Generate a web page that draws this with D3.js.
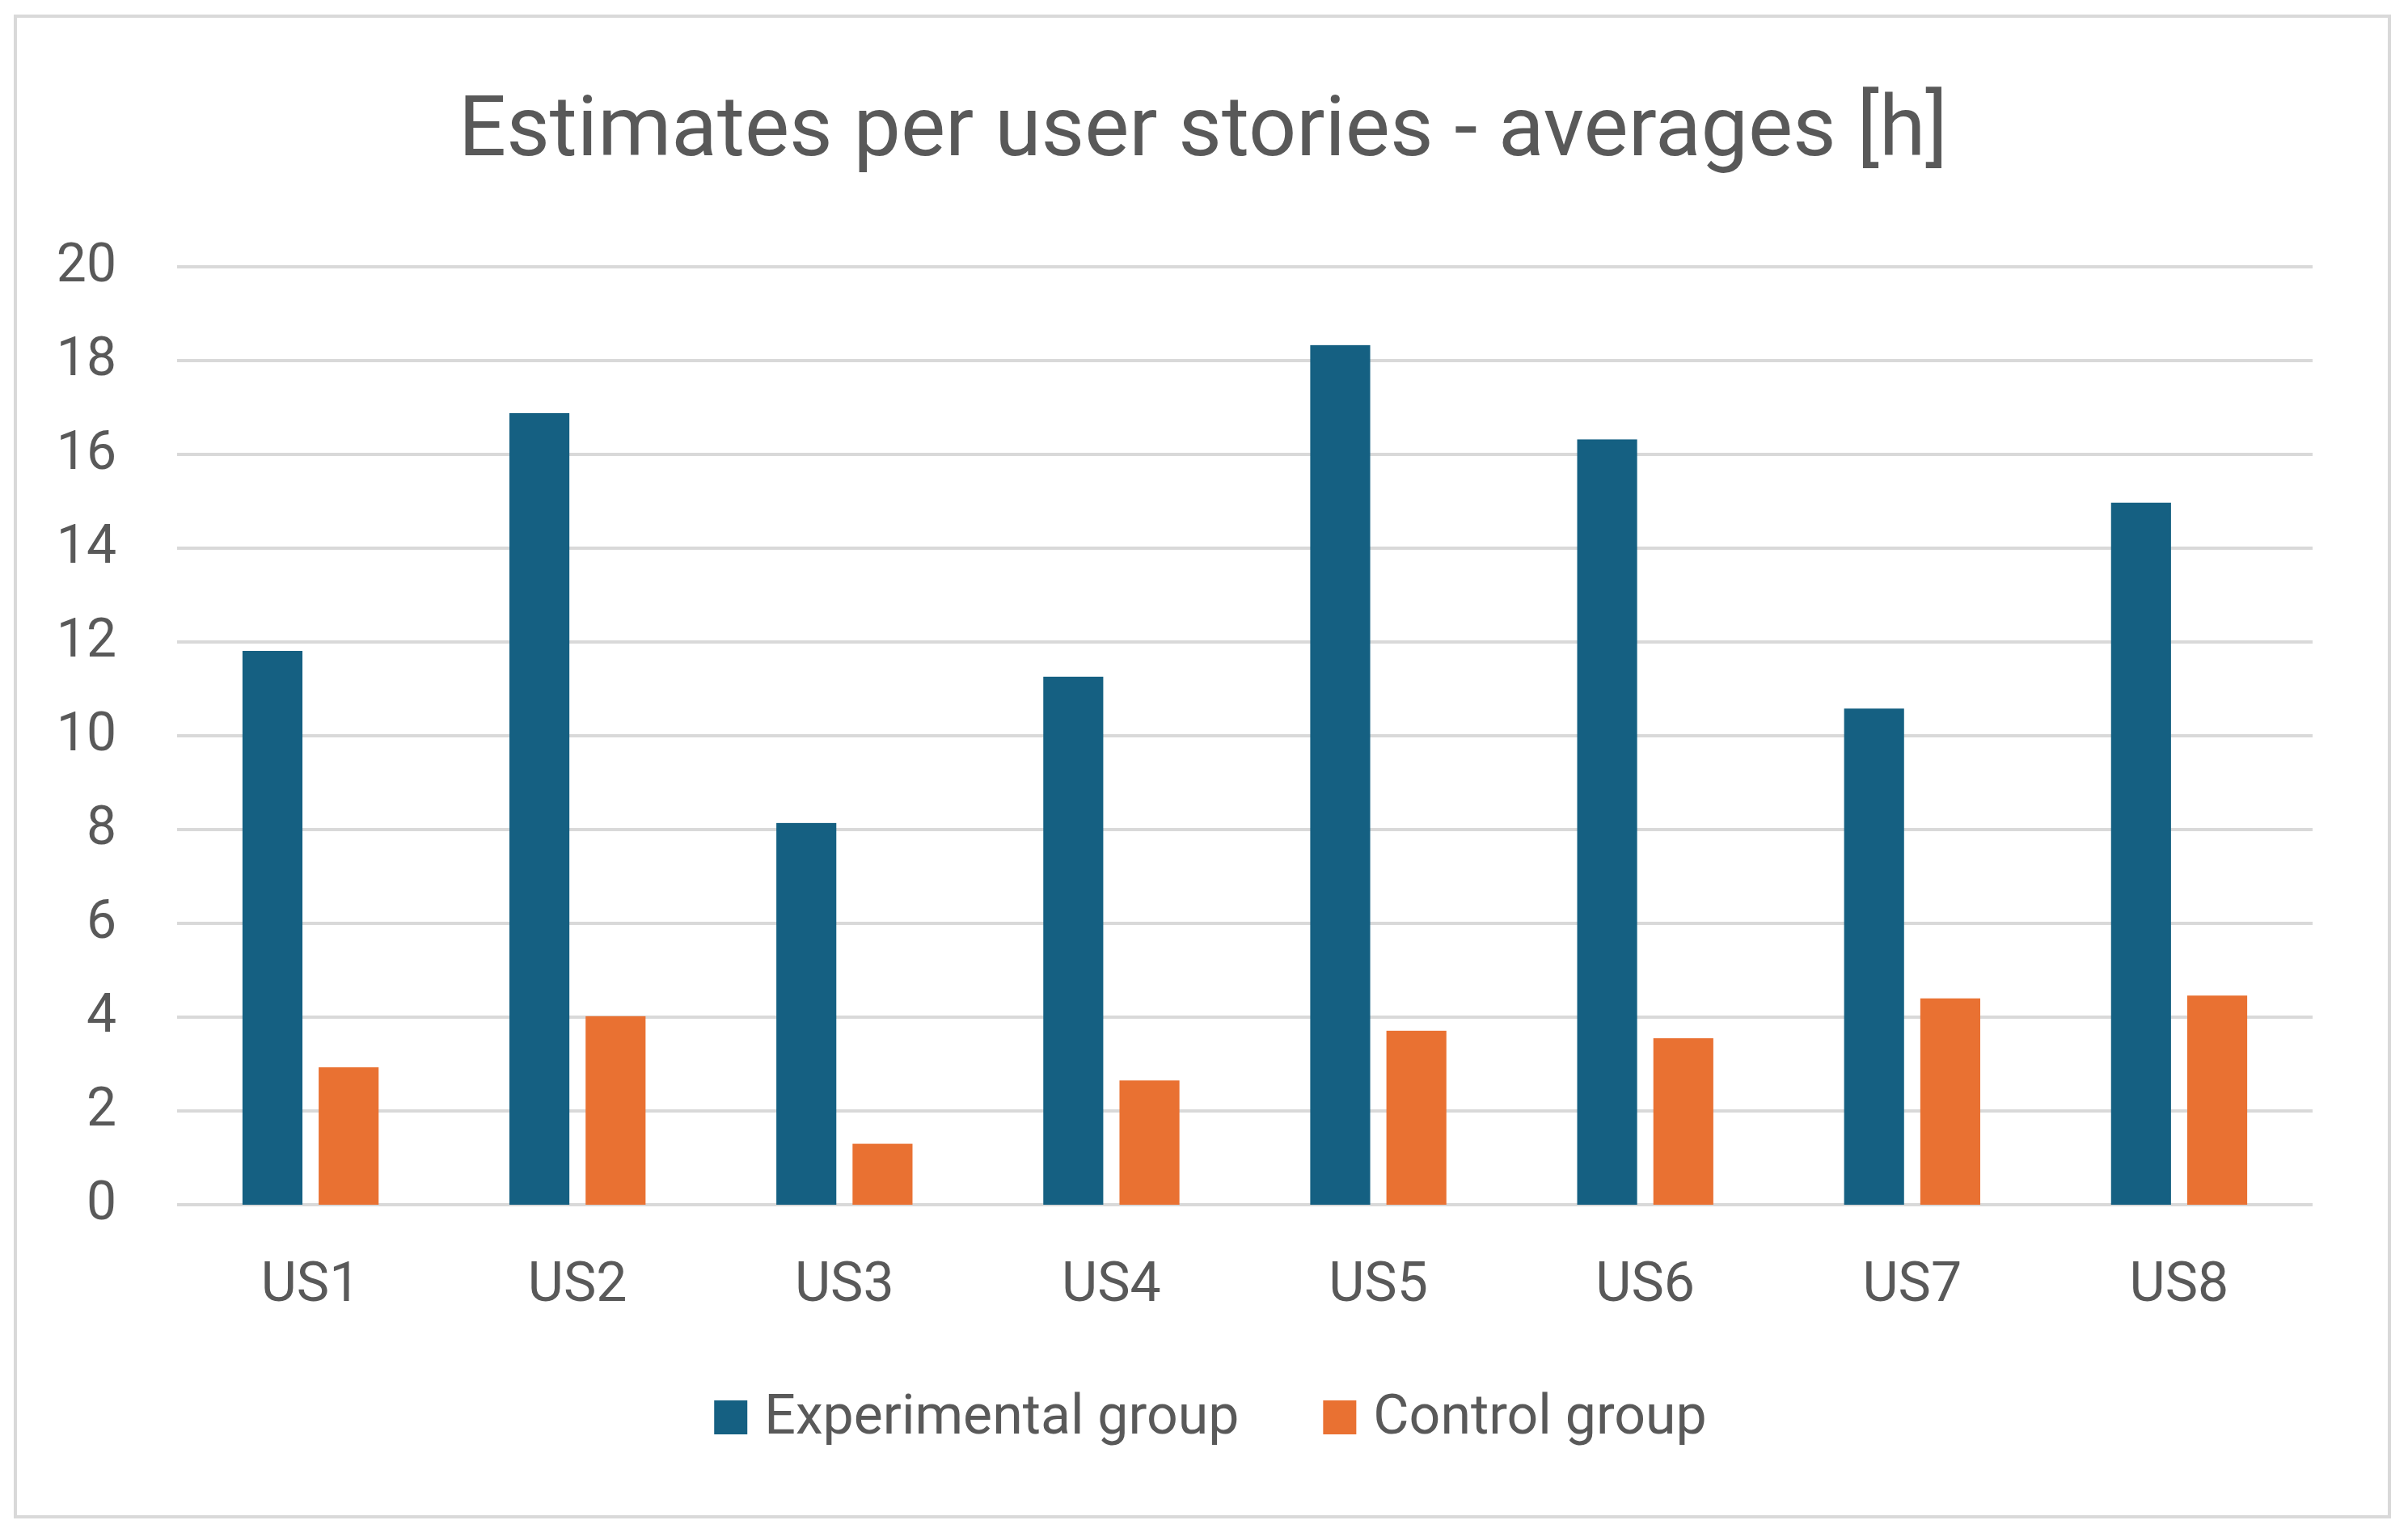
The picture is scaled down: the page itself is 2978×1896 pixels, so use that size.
<!DOCTYPE html>
<html>
<head>
<meta charset="utf-8">
<script src="https://cdn.jsdelivr.net/npm/d3@7"></script>
<style>
  body { margin: 0; background: #fff; }
  text { font-family: Roboto, "Liberation Sans", sans-serif; fill: #595959; }
</style>
</head>
<body>
<div id="chart"></div>
<script>
// values
var categories = ["US1", "US2", "US3", "US4", "US5", "US6", "US7", "US8"];
var seriesNames = ["Experimental group", "Control group"];
var experimental = [11.81, 16.88, 8.14, 11.26, 18.33, 16.32, 10.58, 14.97];
var control = [2.93, 4.02, 1.30, 2.65, 3.71, 3.55, 4.40, 4.46];
var yTicks = [0, 2, 4, 6, 8, 10, 12, 14, 16, 18, 20];
var colors = ["#156082", "#E97132"];

var W = 2978, H = 1896;
var plot = { left: 219, right: 2860, top: 330, bottom: 1490 };

var svg = d3.select("#chart").append("svg")
  .attr("width", W)
  .attr("height", H);

// chart area frame
svg.append("rect").attr("x", 19).attr("y", 20)
  .attr("width", 2936).attr("height", 1856)
  .attr("fill", "#fff").attr("stroke", "#d9d9d9").attr("stroke-width", 4);

svg.append("text")
  .attr("x", 1488).attr("y", 192)
  .attr("text-anchor", "middle")
  .style("font-size", "104px")
  .text("Estimates per user stories - averages [h]");

var x = d3.scaleBand().domain(categories)
  .range([plot.left, plot.right])
  .paddingInner(0.49).paddingOuter(0.245);
var xs = d3.scaleBand().domain(seriesNames)
  .range([0, x.bandwidth()]).paddingInner(0.213);
var y = d3.scaleLinear().domain([0, 20]).range([plot.bottom, plot.top]);

// gridlines
svg.append("g").selectAll("line").data(yTicks).join("line")
  .attr("x1", plot.left).attr("x2", plot.right)
  .attr("y1", function (d) { return y(d); })
  .attr("y2", function (d) { return y(d); })
  .attr("stroke", "#d9d9d9").attr("stroke-width", 4);

// y tick labels
var yAxis = svg.append("g")
  .attr("transform", "translate(" + (plot.left - 75) + ",0)")
  .call(d3.axisLeft(y).tickValues(yTicks).tickSize(0).tickPadding(0));
yAxis.select(".domain").remove();
yAxis.attr("font-family", null).attr("font-size", null);
yAxis.selectAll("text")
  .attr("dy", "0.26em")
  .style("font-size", "66px")
  .attr("fill", null);

// x category labels
var xAxis = svg.append("g")
  .attr("transform", "translate(0," + plot.bottom + ")")
  .call(d3.axisBottom(x).tickSize(0).tickPadding(0));
xAxis.select(".domain").remove();
xAxis.attr("font-family", null).attr("font-size", null);
xAxis.selectAll("text")
  .attr("y", 119).attr("dy", null)
  .style("font-size", "68px")
  .attr("fill", null);

// bars
var rows = categories.map(function (c, i) {
  return { cat: c, vals: [experimental[i], control[i]] };
});
var groups = svg.append("g").selectAll("g").data(rows).join("g")
  .attr("transform", function (d) { return "translate(" + x(d.cat) + ",0)"; });
groups.selectAll("rect")
  .data(function (d) {
    return d.vals.map(function (v, j) { return { name: seriesNames[j], v: v, j: j }; });
  })
  .join("rect")
  .attr("x", function (d) { return xs(d.name); })
  .attr("width", xs.bandwidth())
  .attr("y", function (d) { return y(d.v); })
  .attr("height", function (d) { return y(0) - y(d.v); })
  .attr("fill", function (d) { return colors[d.j]; });

// legend
var legend = svg.append("g");
var sw = 41, swGap = 21, itemGap = 104;
var items = legend.selectAll("g").data(seriesNames).join("g");
items.append("rect")
  .attr("width", sw).attr("height", 42).attr("y", -41)
  .attr("fill", function (d, i) { return colors[i]; });
items.append("text")
  .attr("x", sw + swGap)
  .style("font-size", "68px")
  .text(function (d) { return d; });
var offset = 0;
items.each(function () {
  var g = d3.select(this);
  g.attr("transform", "translate(" + offset + ",0)");
  offset += sw + swGap + g.select("text").node().getComputedTextLength() + itemGap;
});
offset -= itemGap;
legend.attr("transform", "translate(" + (1497 - offset / 2) + ",1773)");
</script>
</body>
</html>
